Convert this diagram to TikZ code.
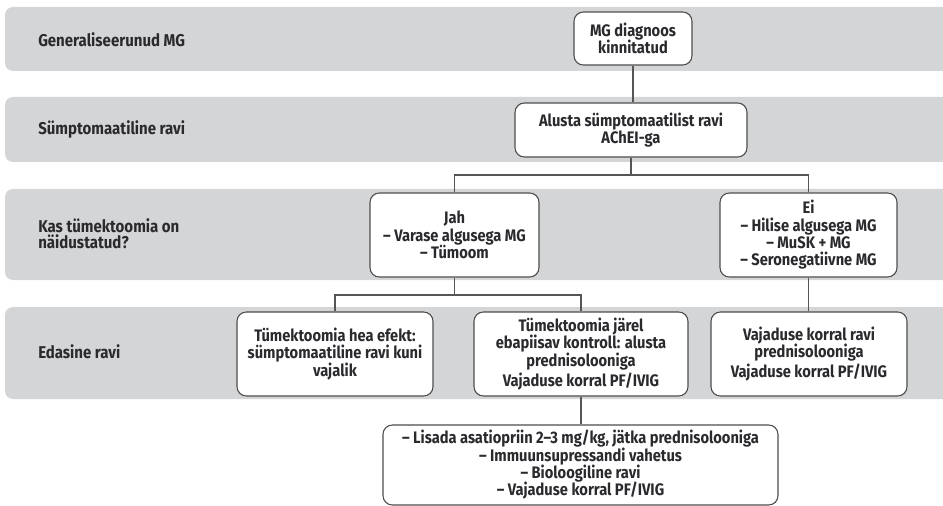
\documentclass[tikz,border=0pt]{standalone}
\usepackage{fontspec}
\setmainfont{Fira Sans}[FakeStretch=0.88]
\definecolor{bandgray}{HTML}{D4D5D7}
\definecolor{boxline}{HTML}{4D4D4D}
\definecolor{lineclr}{HTML}{555555}
\definecolor{txt}{HTML}{2A2A2E}
\begin{document}
\begin{tikzpicture}[x=0.75pt,y=-0.75pt,
  font=\fontsize{12.5}{13}\selectfont\bfseries,
  band/.style={fill=bandgray, draw=none, rounded corners=6pt},
  box/.style={draw=boxline, line width=0.8pt, fill=white, rounded corners=7pt,
    align=center, inner sep=0pt, text=txt},
  lab/.style={anchor=west, align=left, text=txt, inner sep=0pt,
    font=\fontsize{12.8}{12.2}\selectfont\bfseries},
  conn/.style={draw=lineclr, line width=0.8pt}]
\useasboundingbox (0,0) rectangle (943,506);
% bands
\fill[band] (5,7) rectangle (965,71);
\fill[band] (5,97) rectangle (965,162);
\fill[band] (5,189) rectangle (965,280);
\fill[band] (5,307) rectangle (965,399);
% band labels
\node[lab] (l1) at (38,40) {Generaliseerunud MG};
\node[lab] (l2) at (38,129) {Sümptomaatiline ravi};
\node[lab] (l3) at (38,234) {Kas tümektoomia on\\näidustatud?};
\node[lab] (l4) at (38,352) {Edasine ravi};
% nodes
\node[box, minimum width=88.5pt, minimum height=39.75pt] (n1) at (633,38.5)
  {MG diagnoos\\kinnitatud};
\node[box, minimum width=174pt, minimum height=40.5pt] (n2) at (631,130)
  {Alusta sümptomaatilist ravi\\AChEI-ga};
\node[box, minimum width=126.75pt, minimum height=63pt] (jah) at (454.5,235)
  {Jah\\– Varase algusega MG\\– Tümoom};
\node[box, minimum width=132.75pt, minimum height=63pt] (ei) at (808.5,235)
  {Ei\\– Hilise algusega MG\\– MuSK + MG\\– Seronegatiivne MG};
\node[box, minimum width=147pt, minimum height=63pt] (a4) at (335,354)
  {Tümektoomia hea efekt:\\sümptomaatiline ravi kuni\\vajalik};
\node[box, minimum width=160.5pt, minimum height=63pt] (b4) at (581,354)
  {Tümektoomia järel\\ebapiisav kontroll: alusta\\prednisolooniga\\[2pt]Vajaduse korral PF/IVIG};
\node[box, minimum width=147pt, minimum height=63pt] (c4) at (809,354)
  {Vajaduse korral ravi\\prednisolooniga\\[2pt]Vajaduse korral PF/IVIG};
\node[box, minimum width=296.25pt, minimum height=60pt] (n5) at (580.5,465)
  {– Lisada asatiopriin 2–3 mg/kg, jätka prednisolooniga\\– Immuunsupressandi vahetus\\– Bioloogiline ravi\\– Vajaduse korral PF/IVIG};
% branch points
\coordinate (b1) at (631,175);
\coordinate (b2) at (457,295);
% connectors
\draw[conn] (n1.south) -- (n1.south |- n2.north);
\draw[conn] (n2.south) -- (n2.south |- b1);
\draw[conn] (jah.north) -- (jah.north |- b1) -- (ei.north |- b1) -- (ei.north);
\draw[conn] (jah.south) -- (jah.south |- b2);
\draw[conn] (a4.north) -- (a4.north |- b2) -- (b4.north |- b2) -- (b4.north);
\draw[conn] (ei.south) -- (ei.south |- c4.north);
\draw[conn] (b4.south) -- (b4.south |- n5.north);
\end{tikzpicture}
\end{document}
